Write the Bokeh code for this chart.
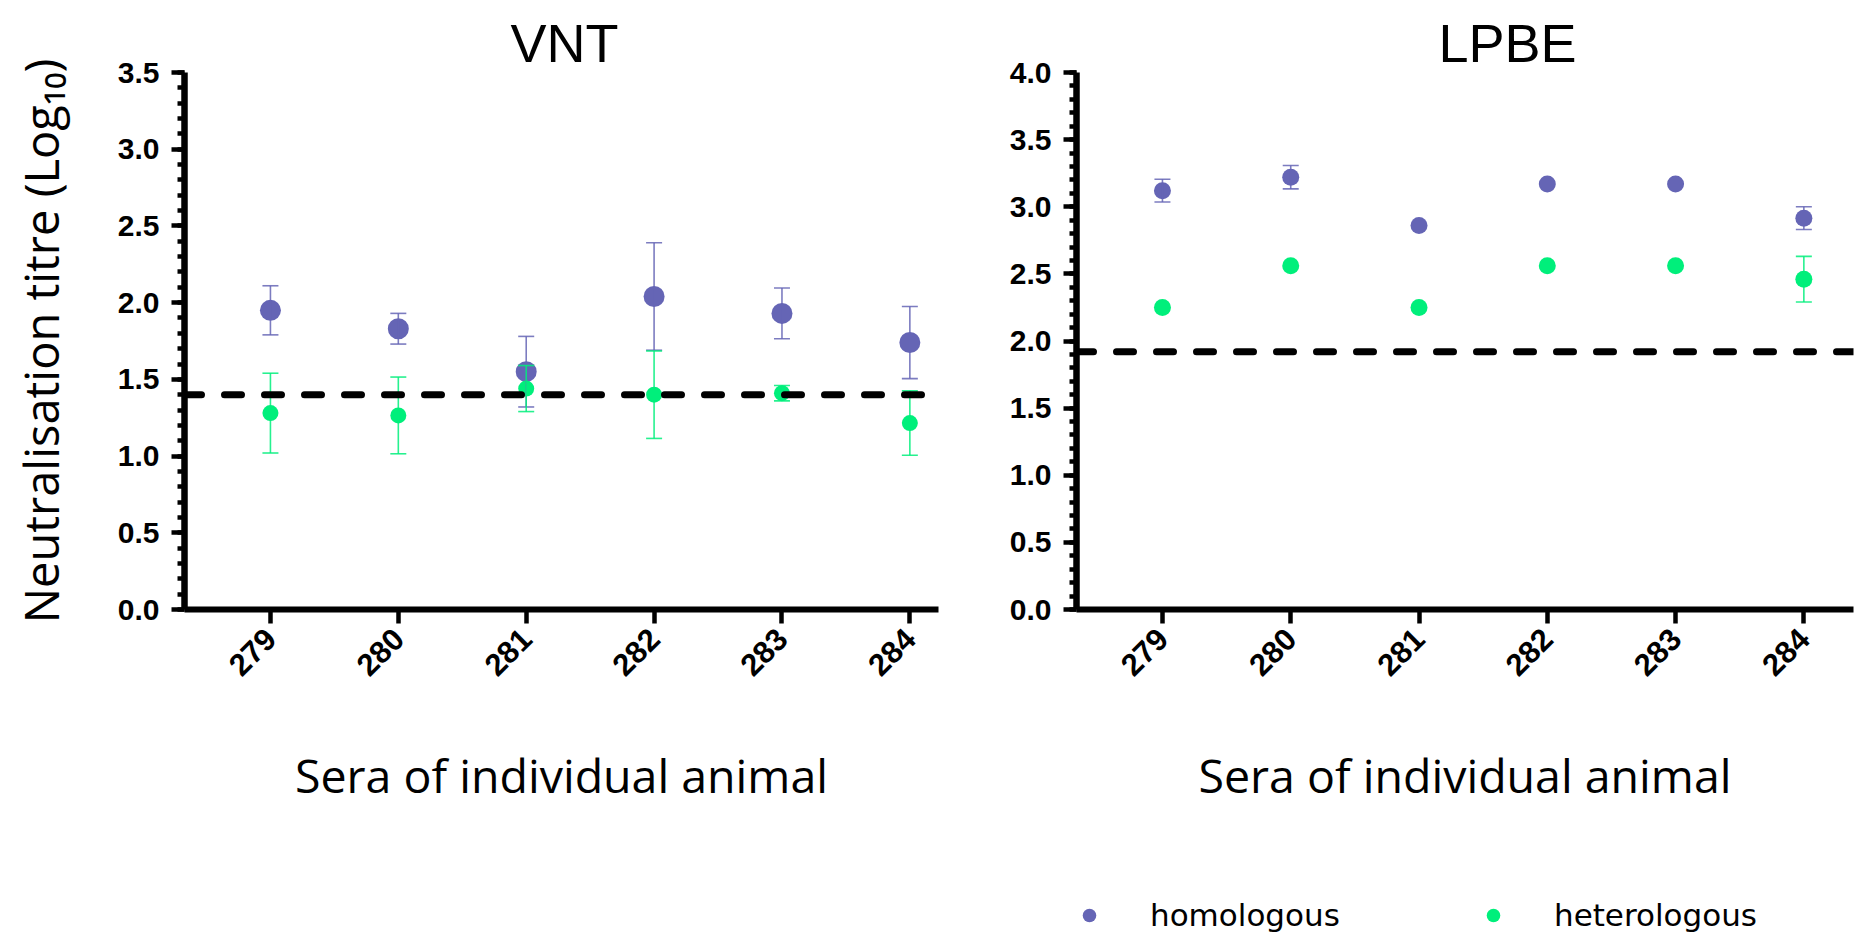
import math
from bokeh.plotting import figure
from bokeh.layouts import row, column
from bokeh.models import (ColumnDataSource, Whisker, TeeHead, Span, FixedTicker,
                          SingleIntervalTicker, PrintfTickFormatter, Legend, LegendItem, Range1d)
from bokeh.embed import file_html
from bokeh.resources import INLINE

# ---------------- data ----------------
animals = ["279", "280", "281", "282", "283", "284"]

vnt_hom_mean = [1.95, 1.83, 1.55, 2.04, 1.93, 1.74]
vnt_hom_err = [0.16, 0.10, 0.23, 0.35, 0.165, 0.235]
vnt_het_mean = [1.28, 1.265, 1.44, 1.40, 1.41, 1.215]
vnt_het_err = [0.26, 0.25, 0.15, 0.285, 0.05, 0.21]
vnt_cutoff = 1.40

lpbe_hom_mean = [3.12, 3.22, 2.86, 3.17, 3.17, 2.915]
lpbe_hom_err = [0.085, 0.087, 0.0, 0.0, 0.0, 0.085]
lpbe_het_mean = [2.25, 2.56, 2.25, 2.56, 2.56, 2.46]
lpbe_het_err = [0.0, 0.0, 0.0, 0.0, 0.0, 0.17]
lpbe_cutoff = 1.92

series_names = ["homologous", "heterologous"]
titles = ["VNT", "LPBE"]
y_label = "Neutralisation titre (Log\u2081\u2080)"
x_label = "Sera of individual animal"

HOM = "#6565B5"
HET = "#00EF7B"
HP = 880          # height of the two chart panels
HL = 937 - HP     # height of the legend strip

xs = list(range(1, len(animals) + 1))


def add_series(p, means, errs, color, size):
    src = ColumnDataSource(dict(x=xs, y=means))
    ex = [x for x, e in zip(xs, errs) if e > 0]
    lo = [m - e for m, e in zip(means, errs) if e > 0]
    up = [m + e for m, e in zip(means, errs) if e > 0]
    esrc = ColumnDataSource(dict(x=ex, lower=lo, upper=up))
    w = Whisker(source=esrc, base="x", upper="upper", lower="lower", dimension="height",
                line_color=color, line_width=1.6, line_alpha=0.85, level="glyph",
                upper_head=TeeHead(size=16, line_color=color, line_width=1.6, line_alpha=0.85),
                lower_head=TeeHead(size=16, line_color=color, line_width=1.6, line_alpha=0.85))
    p.add_layout(w)
    return p.scatter(x="x", y="y", source=src, size=size, fill_color=color, line_color=None)


def make_panel(title, hom_m, hom_e, het_m, het_e, cutoff, ymax, width, xr,
               mbl, mbr, mbt, mbb, hom_size, het_size, tdx):
    p = figure(width=width, height=HP, x_range=Range1d(*xr), y_range=Range1d(0, ymax),
               output_backend="svg", toolbar_location=None,
               min_border_left=mbl, min_border_right=mbr, min_border_top=mbt, min_border_bottom=mbb)
    p.xgrid.visible = False
    p.ygrid.visible = False
    p.outline_line_color = None

    p.title.text = title
    p.title.align = "left"
    p.title.offset = tdx
    p.title.standoff = 0
    p.title.text_font = "Liberation Sans"
    p.title.text_font_style = "normal"
    p.title.text_font_size = "54px"
    p.title.text_color = "black"

    ya = p.yaxis[0]
    ya.ticker = SingleIntervalTicker(interval=0.5, num_minor_ticks=5)
    ya.formatter = PrintfTickFormatter(format="%.1f")
    ya.axis_line_width = 6.5
    ya.major_tick_line_width = 4.5
    ya.minor_tick_line_width = 4.5
    ya.major_tick_out = 13
    ya.major_tick_in = 0
    ya.minor_tick_out = 7
    ya.minor_tick_in = 0
    ya.major_label_standoff = 12
    ya.major_label_text_font = "Liberation Sans"
    ya.major_label_text_font_style = "bold"
    ya.major_label_text_font_size = "30px"
    ya.major_label_text_color = "black"

    xa = p.xaxis[0]
    xa.ticker = FixedTicker(ticks=xs)
    xa.major_label_overrides = {x: a for x, a in zip(xs, animals)}
    xa.axis_line_width = 6
    xa.major_tick_line_width = 4.5
    xa.major_tick_out = 14
    xa.major_tick_in = 0
    xa.minor_tick_line_color = None
    xa.major_label_orientation = math.pi / 4
    xa.major_label_standoff = 10
    xa.major_label_text_font = "Liberation Sans"
    xa.major_label_text_font_style = "bold"
    xa.major_label_text_font_size = "31px"
    xa.major_label_text_color = "black"
    xa.axis_label = x_label
    xa.axis_label_text_font = "Open Sans"
    xa.axis_label_text_font_style = "normal"
    xa.axis_label_text_font_size = "46.5px"
    xa.axis_label_text_color = "black"
    xa.axis_label_standoff = 54

    r_hom = add_series(p, hom_m, hom_e, HOM, hom_size)
    r_het = add_series(p, het_m, het_e, HET, het_size)

    p.add_layout(Span(location=cutoff, dimension="width", line_color="black", line_width=7,
                      line_dash="17 23", line_cap="round"))
    return p, r_hom, r_het


p1, _, _ = make_panel(titles[0], vnt_hom_mean, vnt_hom_err, vnt_het_mean, vnt_het_err,
                      vnt_cutoff, 3.5, 968, (0.328, 6.224),
                      184, 30, 69, HP - 609, 21, 16, 326)
ya1 = p1.yaxis[0]
ya1.axis_label = y_label
ya1.axis_label_text_font = "Open Sans"
ya1.axis_label_text_font_style = "normal"
ya1.axis_label_text_font_size = "47px"
ya1.axis_label_text_color = "black"
ya1.axis_label_standoff = 42

p2, _, _ = make_panel(titles[1], lpbe_hom_mean, lpbe_hom_err, lpbe_het_mean, lpbe_het_err,
                      lpbe_cutoff, 4.0, 1863 - 968, (0.33, 6.387),
                      108, 10, 72, HP - 615, 17, 17, 362)

# ---------------- legend strip ----------------
lf = figure(width=1863, height=HL, x_range=Range1d(0, 1), y_range=Range1d(0, 1),
            output_backend="svg", toolbar_location=None,
            x_axis_location=None, y_axis_location=None,
            min_border_left=0, min_border_right=0, min_border_top=0, min_border_bottom=0)
lf.xgrid.visible = False
lf.ygrid.visible = False
lf.outline_line_color = None
nan = float("nan")
lr_hom = lf.scatter(x=[nan], y=[nan], size=17, fill_color=HOM, line_color=None)
lr_het = lf.scatter(x=[nan], y=[nan], size=17, fill_color=HET, line_color=None)
legend = Legend(items=[LegendItem(label=series_names[0], renderers=[lr_hom]),
                       LegendItem(label=series_names[1], renderers=[lr_het])],
                location=(1072, 4), orientation="horizontal",
                glyph_width=34, glyph_height=34, label_standoff=44, label_width=323, spacing=3,
                padding=0, margin=0, border_line_color=None, background_fill_alpha=0,
                label_text_font="DejaVu Sans", label_text_font_size="31px",
                label_text_color="black")
lf.add_layout(legend, "center")

layout = column(row(p1, p2), lf)
open("out.html", "w").write(file_html(layout, INLINE))
